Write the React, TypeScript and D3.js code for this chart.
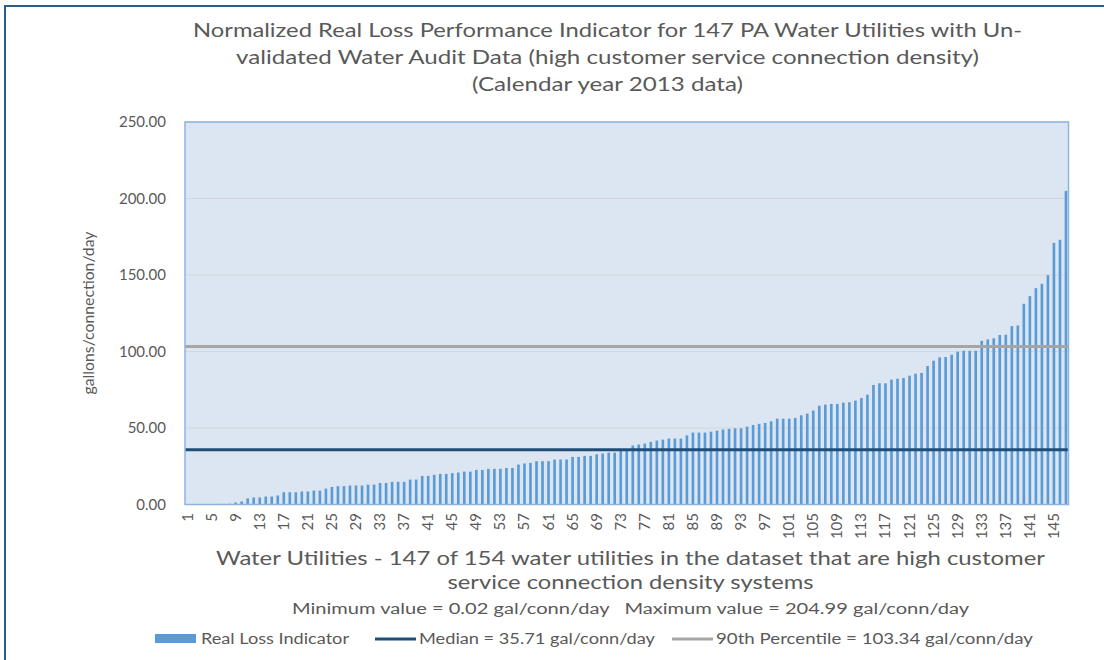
import React from "react";
import * as d3 from "d3";

const utilityRanks: number[] = Array.from({ length: 147 }, (_, i) => i + 1);

const realLoss: number[] = [
  0.02, 0.1, 0.15, 0.2, 0.3, 0.35, 0.4, 0.5,
  1.3, 2.0, 4.0, 4.6, 4.6, 5.2, 5.2, 5.9, 8.0, 8.0, 8.0, 8.5, 8.5, 9.1, 9.1, 10.4,
  11.5, 12.0, 12.0, 12.4, 12.4, 12.4, 13.0, 13.0, 14.1, 14.1, 14.8, 14.8,
  14.8, 16.3, 16.3, 18.7, 18.7, 19.4, 20.0, 20.0, 20.5, 20.9, 21.5, 21.5, 22.6, 22.6,
  23.3, 23.3, 23.3, 23.9, 23.9, 26.1, 26.8, 27.2, 28.3, 28.3, 28.3, 29.4, 29.4, 29.4,
  31.1, 31.1, 31.8, 31.8, 32.8, 33.3, 33.9, 33.9,
  35.0, 35.71, 38.5, 39.2, 39.8, 40.9, 41.8, 42.4, 43.1, 43.1, 43.1, 45.2, 47.0, 47.0,
  47.0, 47.6, 48.3, 49.0, 49.4, 49.8, 49.8, 50.9, 52.0, 52.7, 53.3, 54.4, 56.1, 56.1,
  56.1, 56.6, 58.3, 59.4, 61.4, 64.6, 65.3,
  65.7, 65.7, 66.6, 66.8, 67.9, 69.6, 71.8, 78.1, 79.2, 79.2, 81.6, 82.2, 82.7, 84.2,
  85.5, 86.0, 90.5, 94.0, 96.2, 96.4, 97.9, 99.9, 100.5, 100.5, 100.5, 107.0, 107.9,
  108.6, 110.8, 111.0, 116.6, 117.0, 131.2, 136.2, 141.4, 144.3, 149.9, 171.0, 173.0, 204.99,
];

const medianValue = 35.71;
const p90Value = 103.34;
const yTickValues: number[] = [0, 50, 100, 150, 200, 250];

const titleLines: string[] = [
  "Normalized Real Loss Performance Indicator for 147 PA Water Utilities with Un-",
  "validated Water Audit Data (high customer service connection density)",
  "(Calendar year 2013 data)",
];
const xTitleLines: string[] = [
  "Water Utilities - 147 of 154 water utilities in the dataset that are high customer",
  "service connection density systems",
];
const statsLine = "Minimum value = 0.02 gal/conn/day   Maximum value = 204.99 gal/conn/day";
const yTitle = "gallons/connection/day";
const legendLabels: string[] = [
  "Real Loss Indicator",
  "Median = 35.71 gal/conn/day",
  "90th Percentile = 103.34 gal/conn/day",
];

const FONT = "Lato, 'Open Sans', sans-serif";
const TEXT = "#595959";

export default function App() {
  const W = 1104;
  const H = 660;
  const left = 185;
  const right = 1068.5;
  const top = 122;
  const bottom = 504.5;

  const x = d3
    .scaleBand<number>()
    .domain(utilityRanks)
    .range([left, right])
    .paddingInner(0.56)
    .paddingOuter(0.2);
  const y = d3.scaleLinear().domain([0, 250]).range([bottom, top]);

  const titleWidths = [829, 743, 271];
  const titleY = [37, 64, 91];

  return (
    <svg
      width={W}
      height={H}
      style={{ position: "absolute", left: 0, top: 0, background: "#fff" }}
      fontFamily={FONT}
    >
      <rect x={0} y={0} width={W} height={H} fill="#ffffff" />
      {/* outer frame */}
      <rect x={5} y={6} width={W + 20} height={H + 20} fill="none" stroke="#2e5a87" strokeWidth={2} />

      {titleLines.map((t, i) => (
        <text
          key={t}
          x={607.5}
          y={titleY[i]}
          textAnchor="middle"
          fontSize={19}
          fill={TEXT}
          textLength={titleWidths[i]}
          lengthAdjust="spacingAndGlyphs"
        >
          {t}
        </text>
      ))}

      {/* plot area */}
      <rect x={left} y={top} width={right - left} height={bottom - top} fill="#dce6f2" />
      {yTickValues.map((v) => (
        <line key={v} x1={left} x2={right} y1={y(v)} y2={y(v)} stroke="#d3d6da" strokeWidth={1.2} />
      ))}
      {yTickValues.map((v) => (
        <text key={"t" + v} x={166} y={y(v) + 5} textAnchor="end" fontSize={15} fill={TEXT}>
          {v.toFixed(2)}
        </text>
      ))}

      {realLoss.map((v, i) => (
        <rect
          key={i}
          x={x(utilityRanks[i])!}
          y={y(v)}
          width={x.bandwidth()}
          height={Math.max(0.6, y(0) - y(v))}
          fill="#5b9bd5"
        />
      ))}

      <line x1={left} x2={right} y1={y(p90Value)} y2={y(p90Value)} stroke="#a5a5a5" strokeWidth={3} />
      <line x1={left} x2={right} y1={y(medianValue)} y2={y(medianValue)} stroke="#1f4e79" strokeWidth={3} />

      <rect x={left} y={top} width={right - left} height={bottom - top} fill="none" stroke="#8db4e2" strokeWidth={1.5} />

      {/* x tick labels */}
      {utilityRanks
        .filter((r) => (r - 1) % 4 === 0)
        .map((r) => {
          const cx = x(r)! + x.bandwidth() / 2;
          return (
            <text
              key={"x" + r}
              transform={`translate(${cx + 5},${513}) rotate(-90)`}
              textAnchor="end"
              fontSize={15}
              fill={TEXT}
            >
              {r}
            </text>
          );
        })}

      {/* y title */}
      <text
        transform={`translate(${94},${313}) rotate(-90)`}
        textAnchor="middle"
        fontSize={14.5}
        fill={TEXT}
        textLength={163}
        lengthAdjust="spacingAndGlyphs"
      >
        {yTitle}
      </text>

      {/* x title */}
      <text x={630.5} y={565} textAnchor="middle" fontSize={19} fill={TEXT} textLength={829} lengthAdjust="spacingAndGlyphs">
        {xTitleLines[0]}
      </text>
      <text x={630.5} y={589} textAnchor="middle" fontSize={19} fill={TEXT} textLength={366} lengthAdjust="spacingAndGlyphs">
        {xTitleLines[1]}
      </text>
      <text
        x={630.5}
        y={614}
        textAnchor="middle"
        fontSize={15.5}
        fill={TEXT}
        textLength={677}
        lengthAdjust="spacingAndGlyphs"
        style={{ whiteSpace: "pre" }}
        xmlSpace="preserve"
      >
        {statsLine}
      </text>

      {/* legend */}
      <rect x={155} y={634} width={41} height={9} fill="#5b9bd5" />
      <text x={201} y={644} fontSize={15.5} fill={TEXT} textLength={148} lengthAdjust="spacingAndGlyphs">
        {legendLabels[0]}
      </text>
      <line x1={375} x2={416} y1={639} y2={639} stroke="#1f4e79" strokeWidth={3} />
      <text x={419} y={644} fontSize={15.5} fill={TEXT} textLength={236} lengthAdjust="spacingAndGlyphs">
        {legendLabels[1]}
      </text>
      <line x1={672} x2={713} y1={639} y2={639} stroke="#a5a5a5" strokeWidth={3} />
      <text x={716} y={644} fontSize={15.5} fill={TEXT} textLength={317} lengthAdjust="spacingAndGlyphs">
        {legendLabels[2]}
      </text>
    </svg>
  );
}
